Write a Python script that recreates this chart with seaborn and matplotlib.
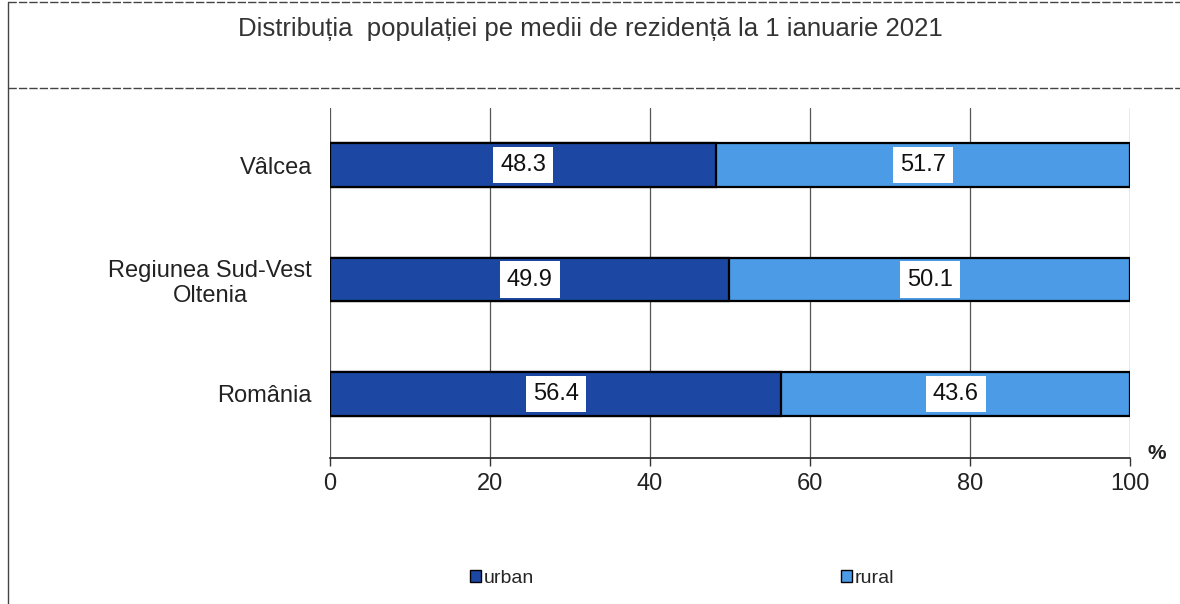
import matplotlib
matplotlib.use("Agg")
import matplotlib.pyplot as plt
import seaborn as sns
import pandas as pd
import numpy as np
from matplotlib.lines import Line2D
from matplotlib.patches import Patch

# data
regions = ["Vâlcea", "Regiunea Sud-Vest\nOltenia", "România"]
urban = [48.3, 49.9, 56.4]
rural = [51.7, 50.1, 43.6]
x_ticks = [0, 20, 40, 60, 80, 100]

urban_color = "#1c48a3"
rural_color = "#4b9be6"

sns.set_theme(style="white")
plt.rcParams['font.family'] = ['Liberation Sans', 'DejaVu Sans']

df = pd.DataFrame({"region": regions, "urban": urban, "rural": rural})
df["total"] = df["urban"] + df["rural"]

fig = plt.figure(figsize=(11.8, 6.04), dpi=100)
ax = fig.add_axes([0.2797, 0.2417, 0.678, 0.5795])

# stacked bars: full length in rural colour, urban drawn on top
sns.barplot(data=df, x="total", y="region", color=rural_color, width=0.38,
            edgecolor="black", linewidth=1.6, saturation=1, ax=ax, zorder=2)
sns.barplot(data=df, x="urban", y="region", color=urban_color, width=0.38,
            edgecolor="black", linewidth=1.6, saturation=1, ax=ax, zorder=3)

# value labels in white boxes
for i in range(len(regions)):
    ax.text(urban[i] / 2, i, f"{urban[i]:.1f}", ha="center", va="center",
            fontsize=17, color="#111111", zorder=5,
            bbox=dict(boxstyle="square,pad=0.3", fc="white", ec="none"))
    ax.text(urban[i] + rural[i] / 2, i, f"{rural[i]:.1f}", ha="center", va="center",
            fontsize=17, color="#111111", zorder=5,
            bbox=dict(boxstyle="square,pad=0.3", fc="white", ec="none"))

ax.set_xlim(0, 100)
ax.set_ylim(2.56, -0.5)
ax.set_xticks(x_ticks)
ax.set_xticklabels([str(t) for t in x_ticks], fontsize=17, color="#222222")
ax.tick_params(axis="y", labelsize=17, labelcolor="#222222", length=0, pad=13)
ax.tick_params(axis="x", length=6, width=1, direction="out", bottom=True, color="#333333", pad=5)
for lbl in ax.get_yticklabels():
    lbl.set_multialignment("center")
ax.set_xlabel("")
ax.set_ylabel("")
ax.grid(axis="x", color="#555555", linewidth=0.9, zorder=0)
ax.set_axisbelow(True)
for s in ["top", "right", "left"]:
    ax.spines[s].set_visible(False)
ax.spines["bottom"].set_color("#222222")
ax.spines["bottom"].set_linewidth(1.2)

ax.text(1.033, 0.012, "%", transform=ax.transAxes, fontsize=15, fontweight="bold",
        color="#222222", ha="center", va="center")

# title and frame lines of the scanned figure
fig.text(0.5, 0.952, "Distribuția  populației pe medii de rezidență la 1 ianuarie 2021",
         ha="center", va="center", fontsize=18.5, color="#333333")
fig.add_artist(Line2D([0.007, 1.0], [0.854, 0.854], color="#444444", lw=1, ls=(0, (6, 1.5))))
fig.add_artist(Line2D([0.007, 1.0], [0.997, 0.997], color="#444444", lw=1, ls=(0, (6, 1.5))))
fig.add_artist(Line2D([0.007, 0.007], [0.0, 0.997], color="#444444", lw=1))

handles = [Patch(facecolor=urban_color, edgecolor="black", label="urban"),
           Patch(facecolor=rural_color, edgecolor="black", label="rural")]
fig.legend(handles=handles, loc="center", bbox_to_anchor=(0.578, 0.043), ncol=2,
           frameon=False, fontsize=14, handlelength=0.55, handleheight=0.55,
           handletextpad=0.15, columnspacing=15.8)

fig.savefig("out.png", dpi=100, facecolor="white")
